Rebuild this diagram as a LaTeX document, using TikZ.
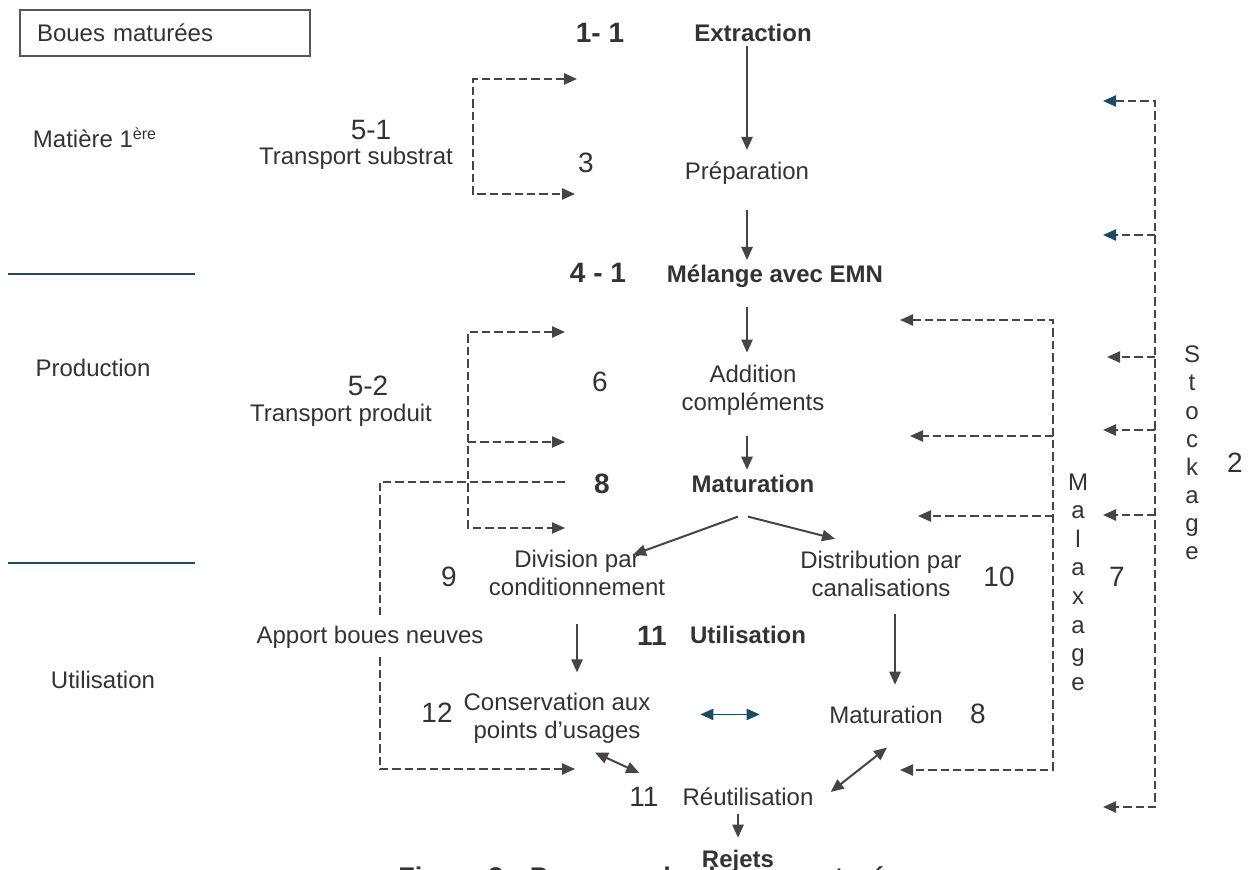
\documentclass[tikz,border=0pt]{standalone}
\usepackage{fontspec}
\setmainfont{Liberation Sans}
\usetikzlibrary{arrows.meta}
\definecolor{inkgray}{HTML}{333333}
\definecolor{arrowgray}{HTML}{4A4343}
\definecolor{slateblue}{HTML}{1E4B5E}
\definecolor{boxgray}{HTML}{5A5656}
\tikzset{%
  >={Triangle[length=6.5pt,width=5.6pt]},%
  tealtri/.tip    = {Triangle[length=6.5pt,width=5.6pt,color=slateblue]},%
  txt/.style      = {inner sep=0pt, text=inkgray, align=center,%
                     font=\fontsize{12}{14}\selectfont},%
  txtb/.style     = {txt, font=\fontsize{12}{14}\selectfont\bfseries},%
  numtxt/.style   = {txt, font=\fontsize{14}{16}\selectfont},%
  numtxtb/.style  = {txt, font=\fontsize{14}{16}\selectfont\bfseries},%
  mainarrow/.style = {draw=arrowgray, line width=1pt, ->},%
  twoway/.style   = {mainarrow, <->},%
  feedline/.style = {draw=arrowgray, line width=0.9pt, dash pattern=on 4.2pt off 2pt},%
  feedarrow/.style = {feedline, ->},%
  feedboth/.style = {feedline, <->},%
  divider/.style  = {draw=slateblue, line width=0.7pt}%
}
\begin{document}
\begin{tikzpicture}[x=0.5pt, y=-0.5pt]
  \useasboundingbox (0,0) rectangle (1257,870);
  % left column
  \node[txt, draw=boxgray, line width=0.6pt, minimum width=145pt, minimum height=23pt,
        text width=128pt, inner xsep=8.5pt, align=left] (boues) at (165,33) {Boues maturées};
  \node[txt, anchor=base] (matiere) at (95,148) {Matière 1\textsuperscript{ère}};
  \node[txt, anchor=base] (prod) at (93,377) {Production};
  \node[txt, anchor=base] (utilg) at (103,688) {Utilisation};
  \draw[divider] (8,274) -- (195,274);
  \draw[divider] (8,563) -- (195,563);
  \node[numtxt, anchor=base] (n51) at (371,140) {5-1};
  \node[txt, anchor=base] (trsub) at (356,165) {Transport substrat};
  \node[numtxt, anchor=base] (n52) at (368,396) {5-2};
  \node[txt, anchor=base] (trprod) at (341,422) {Transport produit};
  \node[txt, anchor=base, inner ysep=4.5pt] (apport) at (370,643) {Apport boues neuves};
  % central column
  \node[numtxtb, anchor=base] (n11a) at (600,43) {1- 1};
  \node[txtb, anchor=base] (extr) at (753,42) {Extraction};
  \node[numtxt, anchor=base] (n3) at (586,173) {3};
  \node[txt, anchor=base] (prep) at (747,180) {Préparation};
  \node[numtxtb, anchor=base] (n41) at (598,283) {4 - 1};
  \node[txtb, anchor=base] (melange) at (775,283) {Mélange avec EMN};
  \node[numtxt, anchor=base] (n6) at (600,392) {6};
  \node[txt] (addc) at (753,390) {Addition\\compléments};
  \node[numtxtb, anchor=base] (n8a) at (602,494) {8};
  \node[txtb, anchor=base] (matur) at (753,493) {Maturation};
  \node[numtxt] (n9) at (449,577) {9};
  \node[txt] (divi) at (577,573) {Division par\\conditionnement};
  \node[txt] (distr) at (881,574) {Distribution par\\canalisations};
  \node[numtxt] (n10) at (999,577) {10};
  \node[numtxt] (n7) at (1117,577) {7};
  \node[txt, font=\fontsize{12}{14.3}\selectfont] (malax) at (1078,582) {M\\a\\l\\a\\x\\a\\g\\e};
  \node[txt, font=\fontsize{12}{14.07}\selectfont] (stock) at (1192,453) {S\\t\\o\\c\\k\\a\\g\\e};
  \node[numtxt, anchor=base] (n2) at (1235,473) {2};
  \node[numtxtb, anchor=base] (n11b) at (652,646) {11};
  \node[txtb, anchor=base] (utilb) at (748,643) {Utilisation};
  \node[numtxt, anchor=base] (n12) at (437,722) {12};
  \node[txt] (cons) at (557,718) {Conservation aux\\points d’usages};
  \node[txt, anchor=base] (matur2) at (886,723) {Maturation};
  \node[numtxt, anchor=base] (n8b) at (978,723) {8};
  \node[numtxt, anchor=base] (n11c) at (644,806) {11};
  \node[txt, anchor=base] (reut) at (748,805) {Réutilisation};
  \node[txtb, anchor=base] (rejets) at (738,867) {Rejets};
  \node[txt, anchor=base west, font=\fontsize{13.5}{16}\selectfont\bfseries] (caption) at (398,886)
    {Figure 3 : Parcours des boues maturées};
  % main flow
  \draw[mainarrow, shorten <=1.5pt, shorten >=6pt] (extr.south -| prep.north) -- (prep.north);
  \draw[mainarrow, shorten <=12.5pt, shorten >=2.5pt] (prep.south) -- (prep.south |- melange.north);
  \draw[mainarrow, shorten <=9.5pt, shorten >=5.9pt] (prep.south |- melange.south) -- (prep.south |- addc.north);
  \draw[mainarrow, shorten <=10pt, shorten >=2.75pt] (prep.south |- addc.south) -- (prep.south |- matur.north);
  \draw[mainarrow] ([shift={(-15,23)}]matur.south) -- ([shift={(56,5)}]divi.north);
  \draw[mainarrow] ([shift={(-5,23)}]matur.south) -- ([shift={(-46,-12)}]distr.north);
  \draw[mainarrow, shorten <=13.75pt, shorten >=10pt] (divi.south) -- (divi.south |- cons.north);
  \draw[mainarrow, shorten <=8.5pt, shorten >=10.25pt] ([shift={(14,0)}]distr.south) -- ([shift={(9,0)}]matur2.north);
  \draw[twoway, draw=slateblue, line width=0.8pt, shorten <=24.8pt, shorten >=34.6pt] (cons.east |- matur2.west) -- (matur2.west);
  \draw[twoway] ([shift={(38,9)}]cons.south) -- ([shift={(-43,-14)}]reut.north west);
  \draw[twoway] ([shift={(17,5)}]reut.north east) -- ([shift={(1,24)}]matur2.south);
  \draw[mainarrow, shorten <=4pt, shorten >=5.75pt] (rejets.north |- reut.south) -- (rejets.north);
  % transport substrat
  \coordinate (s1top) at (577,79);
  \coordinate (s1bend) at (473,194);
  \coordinate (s1bot) at (575,194);
  \draw[feedboth] (s1top) -| (s1bend) -- (s1bot);
  % transport produit
  \coordinate (s2top) at (565,332);
  \coordinate (s2bend) at (468,528);
  \coordinate (s2bot) at (565,528);
  \coordinate (s2mid) at (565,442);
  \draw[feedboth] (s2top) -| (s2bend) -- (s2bot);
  \draw[feedarrow] (s2bend |- s2mid) -- (s2mid);
  % apport boues neuves
  \coordinate (apin) at (565,482);
  \coordinate (apout) at (575,769);
  \coordinate (apx) at (380,0);
  \draw[feedline] (apin) -| (apport.north -| apx);
  \draw[feedarrow] (apport.south -| apx) |- (apout);
  % malaxage
  \coordinate (mx1) at (900,320);
  \coordinate (mx2) at (910,436);
  \coordinate (mx3) at (918,516);
  \coordinate (mxbend) at (1053,770);
  \coordinate (mx4) at (900,770);
  \draw[feedboth] (mx1) -| (mxbend) -- (mx4);
  \draw[feedarrow] (mxbend |- mx2) -- (mx2);
  \draw[feedarrow] (mxbend |- mx3) -- (mx3);
  % stockage
  \coordinate (st1) at (1103,101);
  \coordinate (st2) at (1103,235);
  \coordinate (st3) at (1107,357);
  \coordinate (st4) at (1103,430);
  \coordinate (st5) at (1103,515);
  \coordinate (stbend) at (1155,807);
  \coordinate (st6) at (1103,807);
  \draw[feedline, tealtri->] (st1) -| (stbend) -- (st6);
  \draw[feedline, -tealtri] (stbend |- st2) -- (st2);
  \draw[feedarrow] (stbend |- st3) -- (st3);
  \draw[feedarrow] (stbend |- st4) -- (st4);
  \draw[feedarrow] (stbend |- st5) -- (st5);
\end{tikzpicture}
\end{document}
